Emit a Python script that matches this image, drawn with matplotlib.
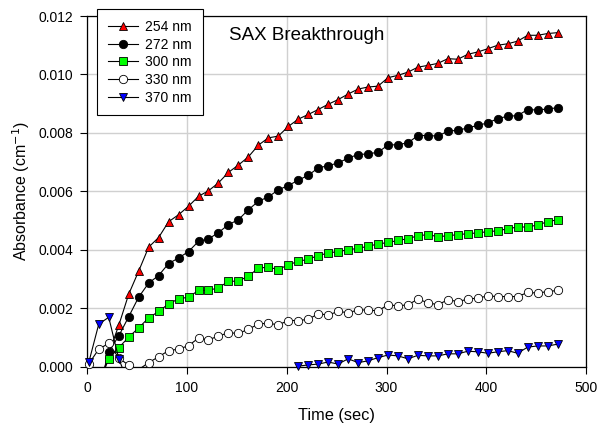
import numpy as np
import matplotlib
matplotlib.use("Agg")
import matplotlib.pyplot as plt
from matplotlib.lines import Line2D

plt.rcParams['font.family'] = ['Liberation Sans', 'DejaVu Sans']

nan = np.nan
time_sec = [1.5, 11.5, 21.5, 31.5, 41.5, 51.5, 61.5, 71.5, 81.5, 91.5,
            101.5, 111.5, 121.5, 131.5, 141.5, 151.5, 161.5, 171.5, 181.5, 191.5,
            201.5, 211.5, 221.5, 231.5, 241.5, 251.5, 261.5, 271.5, 281.5, 291.5,
            301.5, 311.5, 321.5, 331.5, 341.5, 351.5, 361.5, 371.5, 381.5, 391.5,
            401.5, 411.5, 421.5, 431.5, 441.5, 451.5, 461.5, 471.5]

a254 = [nan, -0.0008, 0.00045, 0.00141, 0.00248, 0.00327, 0.00409, 0.00442, 0.00496, 0.0052,
        0.00549, 0.00583, 0.00602, 0.00629, 0.00665, 0.0069, 0.00718, 0.00758, 0.00783, 0.00789,
        0.00822, 0.00847, 0.00863, 0.0088, 0.00898, 0.00914, 0.00933, 0.0095, 0.00957, 0.0096,
        0.00989, 0.00997, 0.01008, 0.01025, 0.01031, 0.01038, 0.01054, 0.01052, 0.01069, 0.01077,
        0.01088, 0.011, 0.01105, 0.01114, 0.01134, 0.01134, 0.0114, 0.01143]

a272 = [nan, -0.0008, 0.00051, 0.00105, 0.00171, 0.00238, 0.00286, 0.00312, 0.00353, 0.00372,
        0.00394, 0.00429, 0.00437, 0.00459, 0.00486, 0.00503, 0.00537, 0.00566, 0.00581, 0.00605,
        0.0062, 0.00638, 0.00655, 0.0068, 0.00688, 0.00697, 0.00714, 0.00726, 0.00728, 0.00734,
        0.00758, 0.0076, 0.00766, 0.00791, 0.00791, 0.00789, 0.00806, 0.00809, 0.00817, 0.00826,
        0.00834, 0.00849, 0.00857, 0.00859, 0.0088, 0.00878, 0.00882, 0.00886]

a300 = [nan, -0.0006, 0.00027, 0.00065, 0.00101, 0.00133, 0.00167, 0.00189, 0.00215, 0.00232,
        0.00238, 0.00261, 0.00261, 0.0027, 0.00292, 0.00293, 0.0031, 0.00337, 0.00341, 0.00332,
        0.00349, 0.0036, 0.00368, 0.0038, 0.00389, 0.00394, 0.004, 0.00405, 0.00412, 0.0042,
        0.00425, 0.00432, 0.00438, 0.00448, 0.00452, 0.00445, 0.00448, 0.00452, 0.00455, 0.00458,
        0.00462, 0.00465, 0.00472, 0.00478, 0.00478, 0.00485, 0.00496, 0.00503]

a330 = [0.0001, 0.0006, 0.0008, 0.0003, 0.00005, -0.0001, 0.00014, 0.00034, 0.00055, 0.0006,
        0.00072, 0.00098, 0.00092, 0.00105, 0.00116, 0.00114, 0.00128, 0.00146, 0.00149, 0.00143,
        0.00158, 0.00158, 0.00162, 0.00181, 0.00177, 0.00189, 0.00185, 0.00194, 0.00194, 0.00191,
        0.00212, 0.00208, 0.00212, 0.00231, 0.00219, 0.00212, 0.00229, 0.00223, 0.00231, 0.00235,
        0.00242, 0.0024, 0.0024, 0.0024, 0.00254, 0.00252, 0.00257, 0.00261]

a370 = [0.00015, 0.00146, 0.00169, 0.00028, -0.0006, nan, nan, nan, nan, nan,
        nan, nan, nan, nan, nan, nan, nan, nan, nan, nan,
        -0.0002, 0.00002, 0.00006, 0.00009, 0.00016, 0.00009, 0.00027, 0.00014, 0.0002, 0.00031,
        0.0004, 0.00037, 0.00027, 0.00039, 0.00037, 0.00037, 0.00044, 0.00044, 0.00053, 0.00051,
        0.00046, 0.00051, 0.00055, 0.00046, 0.00067, 0.00071, 0.00071, 0.00077]

labels = ['254 nm', '272 nm', '300 nm', '330 nm', '370 nm']
series = [a254, a272, a300, a330, a370]
markers = ['^', 'o', 's', 'o', 'v']
facecolors = ['#ff0000', '#000000', '#00ff00', '#ffffff', '#0000ff']
msizes = [6.0, 6.0, 5.2, 6.0, 6.0]

x_ticks = [0, 100, 200, 300, 400, 500]
y_ticks = [0.000, 0.002, 0.004, 0.006, 0.008, 0.010, 0.012]

fig = plt.figure(figsize=(6.0, 4.28), dpi=100)
ax = fig.add_axes([87.3/600, 1-366.7/428, (586-87.3)/600, (366.7-16)/428])

t = np.array(time_sec)
handles = []
for k, (y, lab, m, fc, ms) in enumerate(zip(series, labels, markers, facecolors, msizes)):
    y = np.array(y, dtype=float)
    z = 3 + k
    ax.plot(t, y, color='black', lw=0.8, zorder=z)
    ym = np.ma.masked_invalid(y)
    ym = np.ma.masked_less(ym, 0)
    ax.plot(t, ym, ls='none', marker=m, ms=ms, mfc=fc, mec='black', mew=0.6,
            clip_on=False, zorder=z + 0.5)
    handles.append(Line2D([], [], color='black', lw=0.8, marker=m, ms=ms, mfc=fc,
                          mec='black', mew=0.6, label=lab))

ax.set_xlim(0, 500)
ax.set_ylim(0, 0.012)
ax.set_xticks(x_ticks)
ax.set_yticks(y_ticks)
ax.set_xticklabels([str(v) for v in x_ticks])
ax.set_yticklabels([f"{v:.3f}" for v in y_ticks])
ax.grid(True, color='#d0d0d0', lw=1.0)
ax.set_axisbelow(True)
ax.tick_params(direction='out', length=5, width=0.8, labelsize=10, colors='black', pad=5)
for sp in ax.spines.values():
    sp.set_linewidth(0.9)
    sp.set_color('black')

ax.set_xlabel('Time (sec)', fontsize=11.8, labelpad=10)
ax.set_ylabel('Absorbance (cm$^{-1}$)', fontsize=11.5, labelpad=5)

ax.text(141.7, 0.01134, 'SAX Breakthrough', fontsize=13.5, ha='left', va='center')

leg = fig.legend(handles=handles, loc='upper left',
                 bbox_to_anchor=(96.7/600, 1-9.3/428), bbox_transform=fig.transFigure,
                 fontsize=10, frameon=True, fancybox=False, framealpha=1.0,
                 edgecolor='black', borderaxespad=0.0, handlelength=2.2,
                 handletextpad=0.5, labelspacing=0.26, borderpad=0.78)
leg.get_frame().set_linewidth(0.8)
leg.set_zorder(20)

fig.savefig('out.png', dpi=100)
